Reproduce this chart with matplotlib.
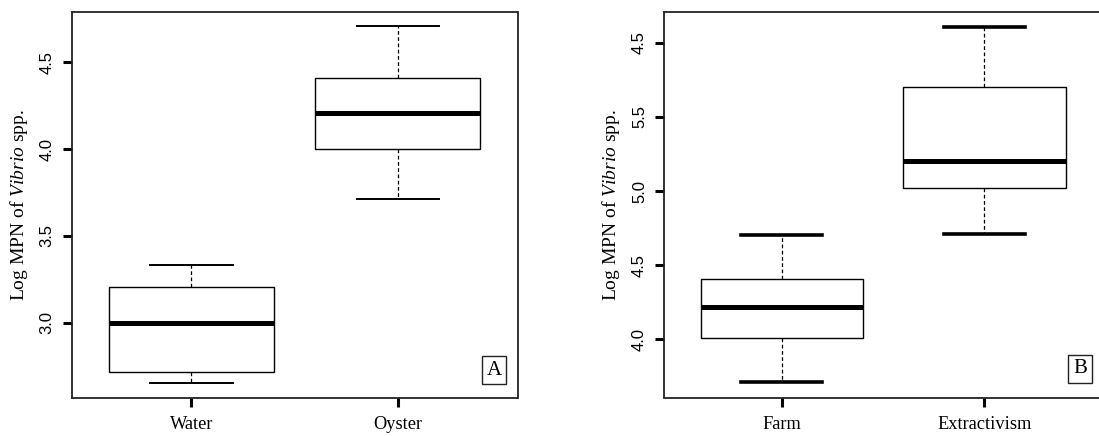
import matplotlib
matplotlib.use("Agg")
import matplotlib.pyplot as plt

plt.rcParams["mathtext.fontset"] = "custom"
plt.rcParams["mathtext.it"] = "Liberation Serif:italic"
plt.rcParams["mathtext.rm"] = "Liberation Serif"
plt.rcParams["mathtext.default"] = "regular"

# Panel A data
cats_a = ["Water", "Oyster"]
whislo_a = [2.651, 3.711]
q1_a = [2.716, 3.999]
med_a = [2.997, 4.206]
q3_a = [3.207, 4.410]
whishi_a = [3.332, 4.709]
yticks_a = [3.0, 3.5, 4.0, 4.5]
yticklabels_a = ["3.0", "3.5", "4.0", "4.5"]

# Panel B data
cats_b = ["Farm", "Extractivism"]
whislo_b = [3.709, 4.709]
q1_b = [4.005, 5.018]
med_b = [4.218, 5.201]
q3_b = [4.403, 5.705]
whishi_b = [4.703, 6.110]
yticks_b = [4.0, 4.5, 5.0, 5.5, 6.0]
yticklabels_b = ["4.0", "4.5", "5.0", "5.5", "4.5"]

SERIF = ["Liberation Serif", "DejaVu Serif"]
SANS = ["Liberation Sans", "DejaVu Sans"]

fig = plt.figure(figsize=(10.99, 4.36), dpi=100)
axA = fig.add_axes([71.7 / 1099, 1 - 397.5 / 436, (517.5 - 71.7) / 1099, (397.5 - 11.7) / 436])
axB = fig.add_axes([664.3 / 1099, 1 - 397.5 / 436, (1102 - 664.3) / 1099, (397.5 - 11.7) / 436])


def draw(ax, cats, lo, q1, med, q3, hi, yt, ytl, caplw):
    stats = []
    for c, a, b, m, d, e in zip(cats, lo, q1, med, q3, hi):
        stats.append(dict(label=c, whislo=a, q1=b, med=m, q3=d, whishi=e, fliers=[]))
    ax.bxp(stats, positions=[1, 2], widths=0.8, patch_artist=True,
           showfliers=False,
           boxprops=dict(facecolor="white", edgecolor="black", linewidth=1.0),
           medianprops=dict(color="black", linewidth=3.6, solid_capstyle="butt"),
           whiskerprops=dict(color="black", linewidth=0.9, linestyle=(0, (3, 2))),
           capprops=dict(color="black", linewidth=caplw),
           capwidths=0.4)
    ax.set_xlim(0.42, 2.58)
    ax.set_xticks([1, 2])
    ax.set_xticklabels(cats, fontfamily=SERIF, fontsize=13.2)
    ax.set_yticks(yt)
    ax.set_yticklabels(ytl, fontfamily=SANS, fontsize=12, rotation=90, va="center")
    ax.tick_params(axis="both", direction="out", length=6.5, width=2.2, color="black")
    ax.tick_params(axis="y", pad=6)
    ax.tick_params(axis="x", pad=7)
    for s in ax.spines.values():
        s.set_linewidth(1.3)
        s.set_color("#222222")
    ax.set_ylabel("Log MPN of $\\mathit{Vibrio}$ spp.", fontfamily=SERIF, fontsize=14, labelpad=7)
    return ax


draw(axA, cats_a, whislo_a, q1_a, med_a, q3_a, whishi_a, yticks_a, yticklabels_a, 1.4)
axA.set_ylim(2.569, 4.791)
draw(axB, cats_b, whislo_b, q1_b, med_b, q3_b, whishi_b, yticks_b, yticklabels_b, 2.6)
axB.set_ylim(3.606, 6.211)

for letter, xy in (("A", (494, 370.4)), ("B", (1080, 368.7))):
    fig.text(xy[0] / 1099, 1 - xy[1] / 436, letter, fontfamily=SERIF, fontsize=15,
             ha="center", va="center",
             bbox=dict(boxstyle="square,pad=0.22", facecolor="white", edgecolor="#222222", linewidth=1.0))

fig.savefig("out.png", dpi=100)
